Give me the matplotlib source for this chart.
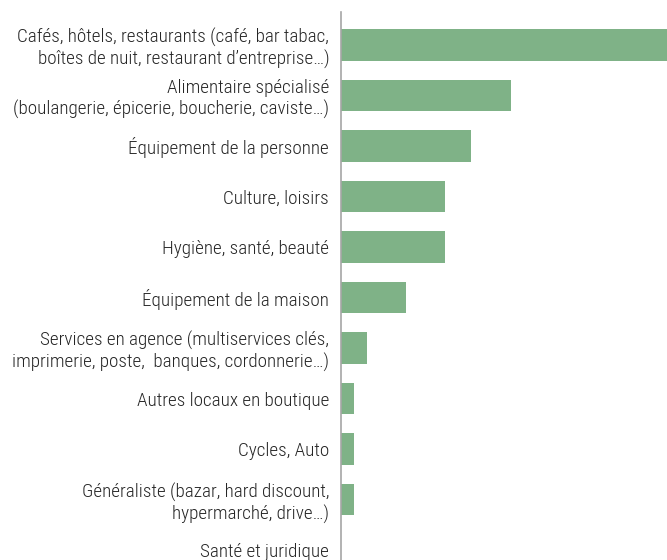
import matplotlib
matplotlib.use("Agg")
import matplotlib.pyplot as plt
import matplotlib.transforms as mtransforms

# Categories (top to bottom) and values
categories = [
    "Cafés, hôtels, restaurants (café, bar tabac,\nboîtes de nuit, restaurant d\u2019entreprise\u2026)",
    "Alimentaire spécialisé\n(boulangerie, épicerie, boucherie, caviste\u2026)",
    "Équipement de la personne",
    "Culture, loisirs",
    "Hygiène, santé, beauté",
    "Équipement de la maison",
    "Services en agence (multiservices clés,\nimprimerie, poste,  banques, cordonnerie\u2026)",
    "Autres locaux en boutique",
    "Cycles, Auto",
    "Généraliste (bazar, hard discount,\nhypermarché, drive\u2026)",
    "Santé et juridique",
]
values = [25, 13, 10, 8, 8, 5, 2, 1, 1, 1, 0]

BAR_COLOR = "#7fb287"
TEXT_COLOR = "#262626"

plt.rcParams['font.family'] = ['Roboto Condensed', 'Roboto', 'DejaVu Sans']

fig = plt.figure(figsize=(6.67, 5.6), dpi=100)
ax = fig.add_axes([341 / 667, 0, 326 / 667, 548 / 560])

pos = list(range(len(categories)))
ax.barh(pos, values, height=0.63, color=BAR_COLOR)

ax.set_xlim(0, 25)
ax.set_ylim(10 + 10 / 50.5, -33 / 50.5)
ax.set_yticks(pos)
ax.set_yticklabels(categories, fontsize=13.8, color=TEXT_COLOR,
                   fontweight='light', linespacing=1.22)
# nudge labels up a couple of pixels
shift = mtransforms.ScaledTranslation(0, 2 / 100, fig.dpi_scale_trans)
for lbl in ax.get_yticklabels():
    lbl.set_multialignment('right')
    lbl.set_transform(lbl.get_transform() + shift)
ax.tick_params(axis='y', length=0, pad=8.5)
ax.set_xticks([])

for s in ['top', 'right', 'bottom']:
    ax.spines[s].set_visible(False)
ax.spines['left'].set_color('#a6a6a6')
ax.spines['left'].set_linewidth(1.2)

fig.savefig("out.png", dpi=100)
